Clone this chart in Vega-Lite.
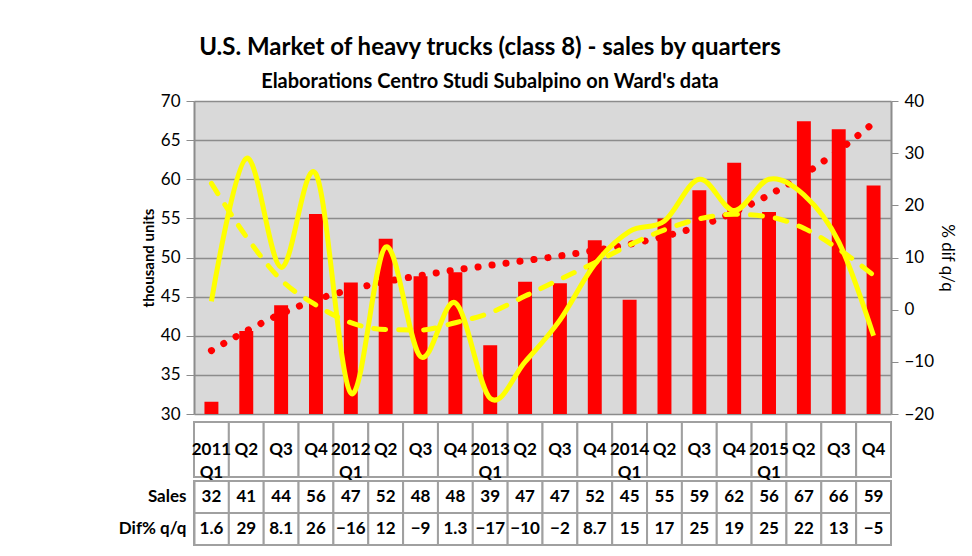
{
  "$schema": "https://vega.github.io/schema/vega-lite/v6.json",
  "background": "white",
  "padding": {"left": 118, "top": 36, "right": 10, "bottom": 10},
  "spacing": -8,
  "title": {
    "text": "U.S. Market of heavy trucks (class 8) - sales by quarters",
    "subtitle": "Elaborations Centro Studi Subalpino on Ward's data",
    "fontSize": 24, "fontWeight": "bold", "color": "black",
    "subtitleFontSize": 20, "subtitleFontWeight": "bold", "subtitleColor": "black",
    "anchor": "middle", "offset": 0, "subtitlePadding": 12, "dx": -47
  },
  "datasets": {
    "d": [
      {"quarter": "2011 Q1", "label": "2011\nQ1", "sales": 31.55, "dif": 1.6, "salesTrend": 38.1, "difTrend": 24.2},
      {"quarter": "2011 Q2", "label": "Q2", "sales": 40.6, "dif": 29, "salesTrend": 40.6, "difTrend": 14.0},
      {"quarter": "2011 Q3", "label": "Q3", "sales": 43.9, "dif": 8.1, "salesTrend": 42.8, "difTrend": 5.7},
      {"quarter": "2011 Q4", "label": "Q4", "sales": 55.55, "dif": 26, "salesTrend": 44.6, "difTrend": 0.9},
      {"quarter": "2012 Q1", "label": "2012\nQ1", "sales": 46.8, "dif": -16, "salesTrend": 45.9, "difTrend": -2.5},
      {"quarter": "2012 Q2", "label": "Q2", "sales": 52.4, "dif": 12, "salesTrend": 46.9, "difTrend": -3.8},
      {"quarter": "2012 Q3", "label": "Q3", "sales": 47.6, "dif": -9, "salesTrend": 47.7, "difTrend": -3.9},
      {"quarter": "2012 Q4", "label": "Q4", "sales": 48.1, "dif": 1.3, "salesTrend": 48.4, "difTrend": -2.5},
      {"quarter": "2013 Q1", "label": "2013\nQ1", "sales": 38.8, "dif": -17, "salesTrend": 49.0, "difTrend": -0.6},
      {"quarter": "2013 Q2", "label": "Q2", "sales": 46.9, "dif": -10, "salesTrend": 49.6, "difTrend": 2.6},
      {"quarter": "2013 Q3", "label": "Q3", "sales": 46.7, "dif": -2, "salesTrend": 50.2, "difTrend": 5.8},
      {"quarter": "2013 Q4", "label": "Q4", "sales": 52.2, "dif": 8.7, "salesTrend": 50.9, "difTrend": 9.0},
      {"quarter": "2014 Q1", "label": "2014\nQ1", "sales": 44.6, "dif": 15, "salesTrend": 51.7, "difTrend": 12.4},
      {"quarter": "2014 Q2", "label": "Q2", "sales": 55.0, "dif": 17, "salesTrend": 52.7, "difTrend": 15.3},
      {"quarter": "2014 Q3", "label": "Q3", "sales": 58.6, "dif": 25, "salesTrend": 54.0, "difTrend": 17.4},
      {"quarter": "2014 Q4", "label": "Q4", "sales": 62.1, "dif": 19, "salesTrend": 55.8, "difTrend": 18.3},
      {"quarter": "2015 Q1", "label": "2015\nQ1", "sales": 55.8, "dif": 25, "salesTrend": 58.0, "difTrend": 17.8},
      {"quarter": "2015 Q2", "label": "Q2", "sales": 67.4, "dif": 22, "salesTrend": 60.6, "difTrend": 15.6},
      {"quarter": "2015 Q3", "label": "Q3", "sales": 66.4, "dif": 13, "salesTrend": 63.7, "difTrend": 11.6},
      {"quarter": "2015 Q4", "label": "Q4", "sales": 59.2, "dif": -5, "salesTrend": 67.2, "difTrend": 6.6}
    ]
  },
  "data": {"name": "d"},
  "vconcat": [
    {
      "width": 697,
      "height": 313,
      "view": {"fill": "#d9d9d9", "stroke": null},
      "encoding": {
        "x": {
          "field": "quarter", "type": "ordinal",
          "scale": {"paddingInner": 0.6, "paddingOuter": 0.3},
          "axis": null
        }
      },
      "layer": [
        {
          "layer": [
            {
              "mark": {"type": "bar", "color": "#ff0000", "clip": true},
              "encoding": {
                "y": {
                  "field": "sales", "type": "quantitative",
                  "scale": {"domain": [30, 70], "nice": false, "zero": false},
                  "axis": {
                    "title": "thousand units", "titleFontSize": 15, "titleFontWeight": "bold", "titleColor": "black",
                    "tickCount": 8, "grid": true, "gridColor": "#8c8c8c", "gridWidth": 1.5,
                    "domainColor": "#8c8c8c", "domainWidth": 2, "tickColor": "#8c8c8c", "tickSize": 8,
                    "labelFontSize": 17, "labelColor": "black", "labelPadding": 6
                  }
                }
              }
            },
            {
              "mark": {"type": "line", "interpolate": "monotone", "color": "#ff0000", "strokeWidth": 7, "strokeCap": "round", "strokeDash": [0.1, 14]},
              "encoding": {
                "y": {"field": "salesTrend", "type": "quantitative"}
              }
            }
          ]
        },
        {
          "layer": [
            {
              "mark": {"type": "line", "interpolate": "cardinal", "strokeWidth": 5, "color": "#ffff00"},
              "encoding": {
                "y": {
                  "field": "dif", "type": "quantitative",
                  "scale": {"domain": [-20, 40], "nice": false, "zero": false},
                  "axis": {
                    "orient": "right", "title": "% dif q/q", "titleFontSize": 17, "titleFontWeight": "normal", "titleColor": "black",
                    "tickCount": 6, "grid": false,
                    "domainColor": "#8c8c8c", "domainWidth": 2, "tickColor": "#8c8c8c", "tickSize": 7,
                    "labelFontSize": 17, "labelColor": "black", "labelPadding": 6
                  }
                }
              }
            },
            {
              "mark": {"type": "line", "interpolate": "monotone", "color": "#ffff00", "strokeWidth": 5, "strokeCap": "round", "strokeDash": [12, 13]},
              "encoding": {
                "y": {"field": "difTrend", "type": "quantitative"}
              }
            }
          ]
        }
      ],
      "resolve": {"scale": {"y": "independent"}}
    },
    {
      "width": 697,
      "height": 55,
      "encoding": {
        "x": {"field": "quarter", "type": "ordinal", "scale": {"paddingInner": 0, "paddingOuter": 0}, "axis": null}
      },
      "layer": [
        {"mark": {"type": "rect", "fill": "white", "stroke": "#a0a0a0", "strokeWidth": 2}},
        {
          "mark": {"type": "text", "fontSize": 17, "fontWeight": "bold", "color": "black", "lineBreak": "\n", "lineHeight": 23},
          "encoding": {"text": {"field": "label", "type": "nominal"}}
        }
      ]
    },
    {
      "width": 697,
      "height": 64,
      "transform": [{"fold": ["sales", "dif"], "as": ["key", "value"]}],
      "encoding": {
        "x": {"field": "quarter", "type": "ordinal", "scale": {"paddingInner": 0, "paddingOuter": 0}, "axis": null},
        "y": {
          "field": "key", "type": "nominal",
          "scale": {"domain": ["sales", "dif"], "paddingInner": 0, "paddingOuter": 0},
          "axis": {
            "title": null, "ticks": false,
            "labelExpr": "datum.value === 'sales' ? 'Sales' : 'Dif% q/q'",
            "labelFontSize": 17, "labelFontWeight": "bold", "labelColor": "black", "labelPadding": 8,
            "domainColor": "#a0a0a0", "domainWidth": 2
          }
        }
      },
      "layer": [
        {"mark": {"type": "rect", "fill": "white", "stroke": "#a0a0a0", "strokeWidth": 2}},
        {
          "mark": {"type": "text", "fontSize": 17, "fontWeight": "bold", "color": "black"},
          "encoding": {
            "text": {
              "condition": {"test": "datum.key === 'sales'", "field": "value", "type": "quantitative", "format": ".0f"},
              "field": "value", "type": "quantitative", "format": "~g"
            }
          }
        }
      ]
    }
  ],
  "config": {
    "font": "Lato",
    "view": {"stroke": null}
  }
}
